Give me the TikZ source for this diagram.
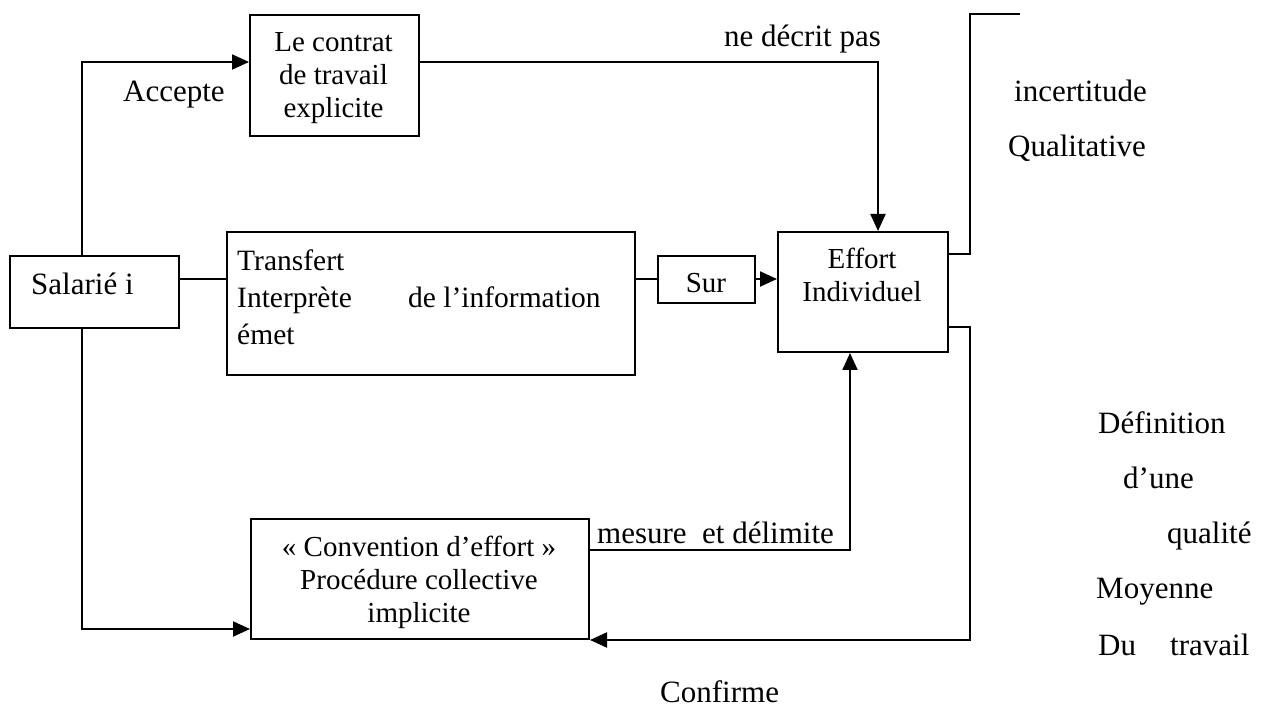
\documentclass[tikz,border=0pt]{standalone}
\usepackage{fontspec}
\setmainfont{Liberation Serif}
\usetikzlibrary{arrows.meta}
\begin{document}
\begin{tikzpicture}[x=1pt,y=-1pt,
  box/.style={draw, line width=2pt, inner sep=0pt, anchor=north west},
  wire/.style={line width=2pt},
  arr/.style={wire, -{Triangle[length=17pt,width=15pt]}},
  boxtxt/.style={font=\fontsize{29}{33}\selectfont, inner sep=0pt, align=center, anchor=base},
  lefttxt/.style={font=\fontsize{29.5}{37}\selectfont, inner sep=0pt, anchor=base west},
  freetxt/.style={font=\fontsize{31}{36}\selectfont, inner sep=0pt, anchor=base west}
]
\useasboundingbox (0,0) rectangle (1262,711);

% boxes
\node[box, minimum width=169pt, minimum height=121pt] (contract) at (249,14) {};
\node[box, minimum width=169pt, minimum height=72pt]  (sal)      at (9,255) {};
\node[box, minimum width=408pt, minimum height=143pt] (trans)    at (226,231) {};
\node[box, minimum width=97pt,  minimum height=47pt]  (sur)      at (657,255) {};
\node[box, minimum width=170pt, minimum height=120pt] (effort)   at (777,231) {};
\node[box, minimum width=338pt, minimum height=120pt] (conv)     at (250,518) {};

% box texts (anchored on the baseline of their last line)
\node[boxtxt] (tcontract) at (333.5,118) {Le contrat\\de travail\\explicite};
\node[freetxt] (tsal) at (31,295) {Salarié i};
\node[lefttxt] (ttr1) at (237,271) {Transfert};
\node[lefttxt] (ttr2) at (237,308) {Interprète};
\node[lefttxt] (ttr3) at (408,308) {de l’information};
\node[lefttxt] (ttr4) at (237,345) {émet};
\node[boxtxt] (tsur) at (706,293) {Sur};
\node[boxtxt] (teffort) at (862,302) {Effort\\Individuel};
\node[boxtxt] (tconv) at (419,622) {« Convention d’effort »\\Procédure collective\\implicite};

% helper points of the connectors
\coordinate (c1) at (82,62);
\coordinate (c2) at (878,62);
\coordinate (yl) at (0,279);
\coordinate (c3) at (970,254);
\coordinate (c4) at (970,14);
\coordinate (open) at (1020,14);
\coordinate (c5) at (970,327);
\coordinate (c6) at (970,640);
\coordinate (c7) at (850,550);
\coordinate (c8) at (82,629);

% connectors
\draw[arr] (sal.north -| c1) -- (c1) -- (contract.west |- c1);
\draw[arr] (contract.east |- c2) -- (c2) -- (effort.north -| c2);
\draw[wire] (sal.east |- yl) -- (trans.west |- yl);
\draw[wire] (trans.east |- yl) -- (sur.west |- yl);
\draw[arr] (sur.east |- yl) -- (effort.west |- yl);
\draw[wire] (effort.east |- c3) -- (c3) -- (c4) -- (open);
\draw[arr] (effort.east |- c5) -- (c5) -- (c6) -- (conv.east |- c6);
\draw[arr] (conv.east |- c7) -- (c7) -- (effort.south -| c7);
\draw[arr] (sal.south -| c8) -- (c8) -- (conv.west |- c8);

% labels
\node[freetxt] (lacc) at (123,102) {Accepte};
\node[freetxt] (lnd) at (724,47) {ne décrit pas};
\node[freetxt] (linc) at (1014,102) {incertitude};
\node[freetxt] (lqual) at (1008,157) {Qualitative};
\node[freetxt] (lmes) at (597,543) {mesure\ \ et délimite};
\node[freetxt] (ldef) at (1098,433) {Définition};
\node[freetxt] (lune) at (1123,488) {d’une};
\node[freetxt] (lqlt) at (1167,543) {qualité};
\node[freetxt] (lmoy) at (1096,598) {Moyenne};
\node[freetxt] (ldu) at (1098,655) {Du};
\node[freetxt] (ltrav) at (1170,655) {travail};
\node[freetxt] (lconf) at (660,702) {Confirme};
\end{tikzpicture}
\end{document}
